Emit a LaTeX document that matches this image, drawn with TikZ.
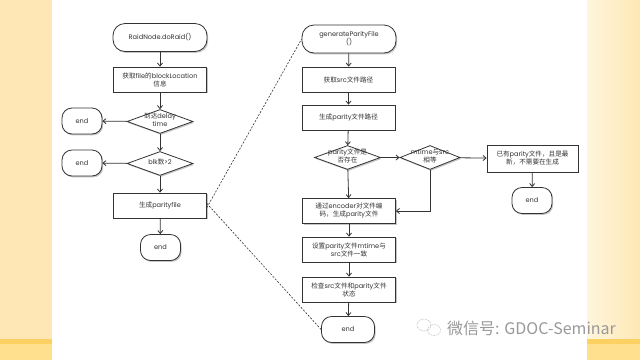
\documentclass[tikz,border=0pt]{standalone}
\usepackage{fontspec}
\setmainfont{Poppins}
\newfontfamily\cjk{Noto Sans CJK SC}
\usetikzlibrary{arrows.meta,shapes.geometric,shadows}
\definecolor{linec}{HTML}{333333}
\definecolor{bandc}{HTML}{FEE7B4}
\definecolor{bandlight}{HTML}{FFF5DC}
\definecolor{stripc}{HTML}{FCD161}
\definecolor{stripl}{HTML}{FFE08E}
\newcommand\dtxt[1]{\raisebox{-1.8pt}{\smash{\makebox[0pt]{\begin{tabular}{@{}c@{}}#1\end{tabular}}}}}
\begin{document}
\begin{tikzpicture}[x=1pt,y=-1pt,
  flow/.style={draw=linec, line width=0.8pt, fill=white,
    drop shadow={shadow xshift=1.2pt,shadow yshift=-1.4pt,opacity=0.45},
    inner sep=0pt, align=center, font=\fontsize{6.6}{8}\selectfont, text=linec},
  box/.style={flow, rectangle, minimum width=93pt, minimum height=25pt},
  term/.style={flow, rectangle, rounded corners=12pt, minimum width=94pt, minimum height=28pt},
  endn/.style={flow, rectangle, rounded corners=10pt, minimum width=40pt, minimum height=26pt},
  dia/.style={flow, diamond, minimum width=66pt, minimum height=24pt},
  arr/.style={draw=linec, line width=0.8pt, -{Straight Barb[length=3pt,width=5pt]}},
  zoomline/.style={draw=linec, line width=0.6pt, dash pattern=on 2pt off 1.5pt}
]
\useasboundingbox (0,0) rectangle (640,360);
% background
\fill[white] (0,0) rectangle (640,360);
\fill[bandc] (0,0) rectangle (52,339);
\shade[left color=bandlight, right color=bandc, shading angle=90] (587,0) rectangle (640,339);
\fill[stripc] (0,339) rectangle (52,344);
\fill[stripc] (587,339) rectangle (640,344);
\fill[stripl] (0,344) rectangle (52,360);
\fill[stripl] (587,344) rectangle (640,360);

% left flow
\node[term] (raid) at (160,37.5) {RaidNode.doRaid()};
\node[box] (getloc) at (160,79.5) {{\cjk 获取}file{\cjk 的}blockLocation\\{\cjk 信息}};
\node[dia] (d1) at (160,121.5) {\dtxt{{\cjk 到达}delay\\time}};
\node[endn] (e1) at (82,121) {end};
\node[dia] (d2) at (160,163.5) {\dtxt{blk{\cjk 数}>2}};
\node[endn] (e2) at (82,163) {end};
\node[box] (genp) at (160,205.5) {{\cjk 生成}parityfile};
\node[endn] (e3) at (160.5,247.5) {end};

% right flow
\node[term] (gen) at (349,39) {generateParityFile\\()};
\node[box] (src) at (348.5,79.5) {{\cjk 获取}src{\cjk 文件路径}};
\node[box] (ppath) at (348.5,117.5) {{\cjk 生成}parity{\cjk 文件路径}};
\node[dia] (d3) at (347.5,157.5) {\dtxt{parity{\cjk 文件是}\\{\cjk 否存在}}};
\node[dia, minimum width=60pt] (d4) at (430,157.5) {\dtxt{mtime{\cjk 与}src\\{\cjk 相等}}};
\node[box, minimum width=91pt, minimum height=27pt] (has) at (532.5,158.5) {{\cjk 已有}parity{\cjk 文件，且是最}\\{\cjk 新，不需要在生成}};
\node[endn] (e4) at (532,200.5) {end};
\node[box, minimum height=25pt] (enc) at (349,211) {{\cjk 通过}encoder{\cjk 对文件编}\\{\cjk 码，生成}parity{\cjk 文件}};
\node[box] (set) at (349,249.5) {{\cjk 设置}parity{\cjk 文件}mtime{\cjk 与}\\src{\cjk 文件一致}};
\node[box] (chk) at (349,289.5) {{\cjk 检查}src{\cjk 文件和}parity{\cjk 文件}\\{\cjk 状态}};
\node[endn, minimum width=53pt] (e5) at (348,329.5) {end};

% connectors left
\draw[arr] (raid) -- (getloc);
\draw[arr] (getloc) -- (d1);
\draw[arr] (d1) -- (e1);
\draw[arr] (d1) -- (d2);
\draw[arr] (d2) -- (e2);
\draw[arr] (d2) -- (genp);
\draw[arr] (genp) -- (e3);

% connectors right
\draw[arr] (gen) -- (src);
\draw[arr] (src) -- (ppath);
\draw[arr] (ppath) -- (d3);
\draw[arr] (d3) -- (d4);
\draw[arr] (d4) -- (has);
\draw[arr] (has) -- (e4);
\draw[arr] (d3) -- (enc);
\draw[arr] (d4.south) |- (enc.east);
\draw[arr] (enc) -- (set);
\draw[arr] (set) -- (chk);
\draw[arr] (chk) -- (e5);

% dashed zoom lines
\draw[zoomline] ([yshift=-2pt]genp.east) -- (gen.west);
\draw[zoomline] ([yshift=2pt]genp.east) -- (e5.west);

% watermark
\begin{scope}[draw=gray!45, line width=0.6pt, dash pattern=on 1.5pt off 1pt]
\draw (424,325) ellipse (7pt and 6pt);
\draw (434,330) ellipse (6.5pt and 5.5pt);
\end{scope}
\node[anchor=west, inner sep=0pt, text=gray!80, font=\cjk\fontsize{16}{16}\selectfont] (wm) at (447,328) {微信号: GDOC-Seminar};
\end{tikzpicture}
\end{document}
